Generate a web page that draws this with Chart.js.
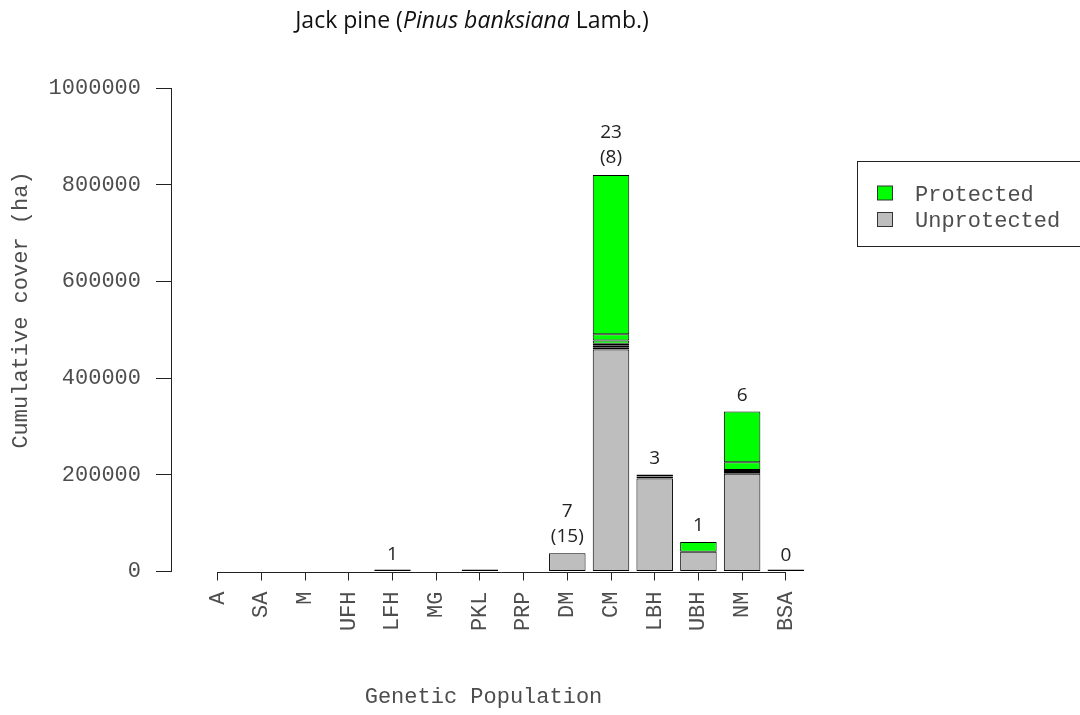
<!DOCTYPE html>
<html>
<head>
<meta charset="utf-8">
<title>Jack pine cumulative cover</title>
<script src="https://cdn.jsdelivr.net/npm/chart.js@4/dist/chart.umd.min.js"></script>
<style>
  html, body { margin: 0; padding: 0; background: #ffffff; }
  #wrap { width: 1080px; height: 715px; position: relative; }
</style>
</head>
<body>
<div id="wrap"><canvas id="c"></canvas></div>
<script>
// Genetic populations along the x axis
const categories = ['A', 'SA', 'M', 'UFH', 'LFH', 'MG', 'PKL', 'PRP', 'DM', 'CM', 'LBH', 'UBH', 'NM', 'BSA'];

// Counts printed above each bar (upper line, lower line)
const countUpper = ['', '', '', '', '1', '', '', '', '7', '23', '3', '1', '6', '0'];
const countLower = ['', '', '', '', '', '', '', '', '(15)', '(8)', '', '', '', ''];

// Unprotected cover (ha), one stacked segment per layer
const unprot1 = [null, null, null, null, 2500, null, 0, null, 37500, 459000, 192500, 41000, 202000, 0];
const unprot2 = [null, null, null, null, null, null, null, null, null, null, 4000, null, 4000, null];
const unprot3 = [null, null, null, null, null, null, null, null, null, null, 4000, null, 4000, null];

// Protected cover (ha), stacked on top of the unprotected segments
const prot1 = [null, null, null, null, null, null, null, null, null, 4000, null, 20000, 16000, null];
const prot2 = [null, null, null, null, null, null, null, null, null, 4000, null, null, 105000, null];
const prot3 = [null, null, null, null, null, null, null, null, null, 4000, null, null, null, null];
const prot4 = [null, null, null, null, null, null, null, null, null, 7000, null, null, null, null];
const prot5 = [null, null, null, null, null, null, null, null, null, 12500, null, null, null, null];
const prot6 = [null, null, null, null, null, null, null, null, null, 329500, null, null, null, null];

// y axis tick values
const yTicks = [0, 200000, 400000, 600000, 800000, 1000000];

// Text
const titleParts = ['Jack pine (', 'Pinus banksiana', ' Lamb.)'];
const titleItalic = [false, true, false];
const xTitle = 'Genetic Population';
const yTitle = 'Cumulative cover (ha)';
const seriesNames = ['Protected', 'Unprotected'];

const GREEN = '#00ff00';
const GREY = '#bebebe';
const LINE = '#222222';
const AXIS_TEXT = '#4d4d4d';
const MONO = '"Liberation Mono", "DejaVu Sans Mono", monospace';
const SANS = '"Open Sans", "Noto Sans", sans-serif';

function makeSet(name, values, colour, minLen) {
  return {
    label: name,
    data: values.map((v, i) => ({ x: i, y: v })),
    backgroundColor: colour,
    borderColor: '#000000',
    borderWidth: 1,
    borderSkipped: false,
    inflateAmount: 0.001,
    barThickness: 36.5,
    minBarLength: minLen,
    stack: 'cover'
  };
}

const datasets = [];
[unprot1, unprot2, unprot3].forEach((arr, k) =>
  datasets.push(makeSet('Unprotected', arr, GREY, k === 0 ? 2 : 0)));
[prot1, prot2, prot3, prot4, prot5, prot6].forEach(arr =>
  datasets.push(makeSet('Protected', arr, GREEN, 0)));

function totalAt(i) {
  return datasets.reduce((s, d) => s + (d.data[i].y || 0), 0);
}

// Titles, count labels, x axis baseline and legend box
const annotations = {
  id: 'coverAnnotations',
  afterDraw(chart) {
    const ctx = chart.ctx;
    const xs = chart.scales.x;
    const ys = chart.scales.y;
    ctx.save();

    // x axis line between first and last tick
    const y0 = Math.round(ys.getPixelForValue(0)) + 0.5;
    ctx.strokeStyle = LINE;
    ctx.lineWidth = 1;
    ctx.beginPath();
    ctx.moveTo(xs.getPixelForValue(0), y0);
    ctx.lineTo(xs.getPixelForValue(categories.length - 1), y0);
    ctx.stroke();

    // chart title with italic species name
    ctx.fillStyle = '#111111';
    ctx.textBaseline = 'middle';
    ctx.textAlign = 'left';
    const fonts = titleItalic.map(it => (it ? 'italic ' : '') + '23px ' + SANS);
    let w = 0;
    titleParts.forEach((t, k) => { ctx.font = fonts[k]; w += ctx.measureText(t).width; });
    let tx = 472 - w / 2;
    titleParts.forEach((t, k) => {
      ctx.font = fonts[k];
      ctx.fillText(t, tx, 21);
      tx += ctx.measureText(t).width;
    });

    // counts above bars
    ctx.font = '19px ' + SANS;
    ctx.textAlign = 'center';
    ctx.fillStyle = '#222222';
    categories.forEach((c, i) => {
      if (!countUpper[i]) return;
      const px = xs.getPixelForValue(i);
      const top = ys.getPixelForValue(totalAt(i));
      if (countLower[i]) {
        ctx.fillText(countLower[i], px, top - 17);
        ctx.fillText(countUpper[i], px, top - 42);
      } else {
        ctx.fillText(countUpper[i], px, top - 16);
      }
    });

    // axis titles
    ctx.font = '22px ' + MONO;
    ctx.fillStyle = AXIS_TEXT;
    ctx.fillText(xTitle, 483.5, 697);
    ctx.save();
    ctx.translate(21, 310);
    ctx.rotate(-Math.PI / 2);
    ctx.fillText(yTitle, 0, 0);
    ctx.restore();

    // legend
    ctx.strokeStyle = LINE;
    ctx.strokeRect(857.5, 161.5, 230, 85);
    const swatch = [GREEN, GREY];
    const rowY = [193, 219.5];
    seriesNames.forEach((n, k) => {
      ctx.fillStyle = swatch[k];
      ctx.fillRect(877.5, rowY[k] - 7, 15, 14);
      ctx.strokeStyle = '#333333';
      ctx.strokeRect(877.5, rowY[k] - 7, 15, 14);
      ctx.fillStyle = AXIS_TEXT;
      ctx.textAlign = 'left';
      ctx.fillText(n, 915, rowY[k] + 2);
    });

    ctx.restore();
  }
};

new Chart(document.getElementById('c'), {
  type: 'bar',
  data: { datasets },
  plugins: [annotations],
  options: {
    responsive: true,
    maintainAspectRatio: false,
    animation: false,
    devicePixelRatio: 1,
    layout: { padding: { top: 88, right: 248, bottom: 0, left: 0 } },
    plugins: {
      legend: { display: false },
      tooltip: { enabled: false },
      title: { display: false }
    },
    scales: {
      x: {
        type: 'linear',
        stacked: true,
        offset: false,
        min: -1.0686,
        max: 14.057,
        afterBuildTicks: s => { s.ticks = categories.map((_, i) => ({ value: i })); },
        afterFit: s => { s.height = 143.5; },
        grid: { offset: false, drawOnChartArea: false, drawTicks: true, tickLength: 9, color: LINE },
        border: { display: false },
        ticks: {
          autoSkip: false,
          minRotation: 90,
          maxRotation: 90,
          padding: 11,
          color: AXIS_TEXT,
          font: { family: MONO, size: 22 },
          callback: v => categories[v] ?? ''
        }
      },
      y: {
        stacked: true,
        min: 0,
        max: 1000000,
        afterBuildTicks: s => { s.ticks = yTicks.map(v => ({ value: v })); },
        afterFit: s => { s.width = 171; },
        grid: { drawOnChartArea: false, drawTicks: true, tickLength: 15, color: LINE },
        border: { display: true, color: LINE },
        ticks: {
          padding: 15,
          color: AXIS_TEXT,
          font: { family: MONO, size: 22 },
          callback: v => String(v)
        }
      }
    }
  }
});
</script>
</body>
</html>
